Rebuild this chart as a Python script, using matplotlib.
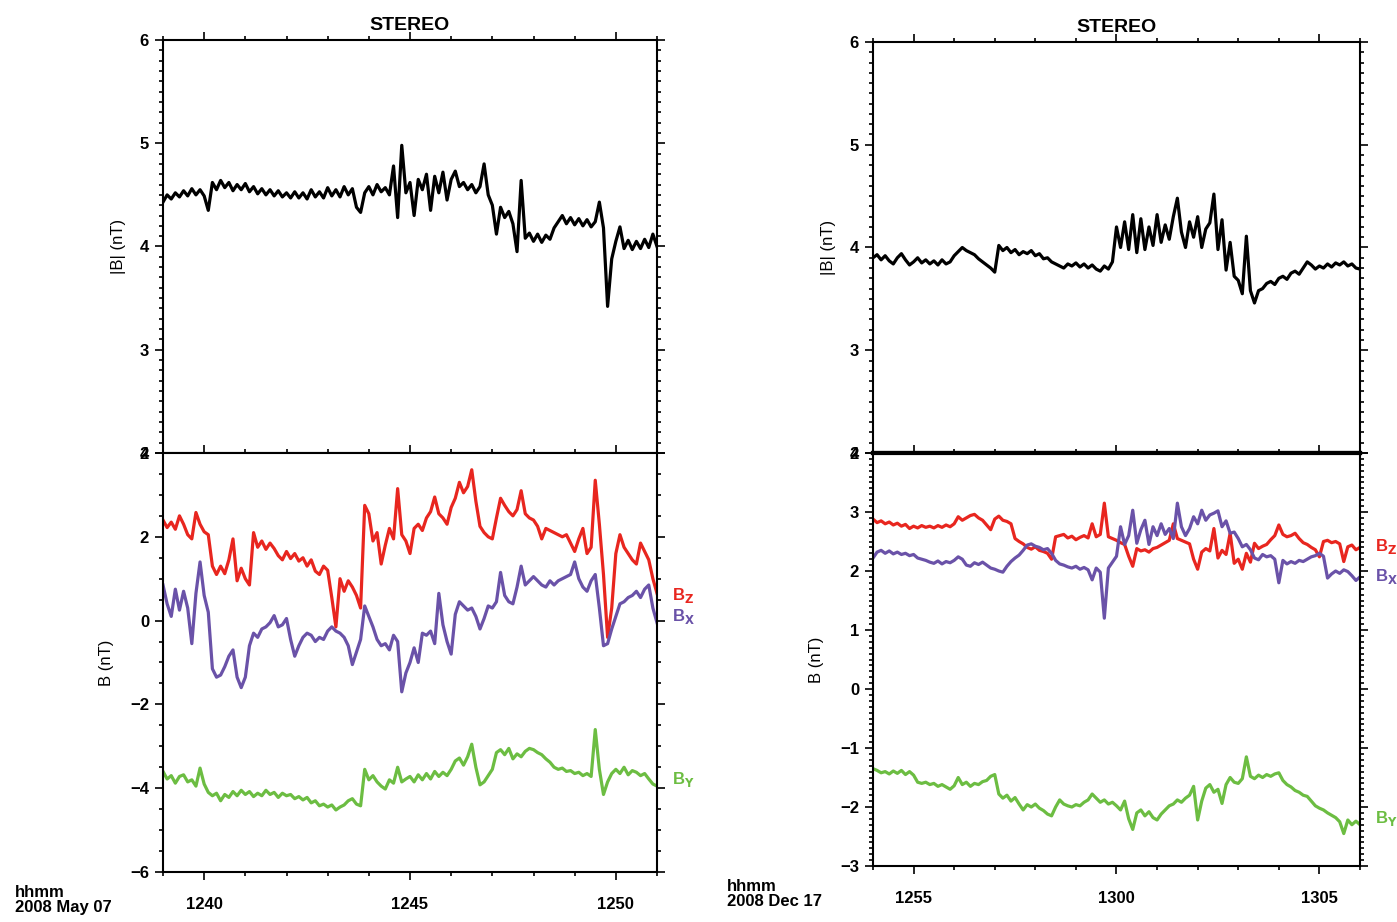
import numpy as np
import matplotlib
matplotlib.use("Agg")
import matplotlib.pyplot as plt
from matplotlib.ticker import MultipleLocator, FuncFormatter

# ---- 2008 May 07, 12:39-12:51 UT (minutes after 12:00) ----
may_start, may_end = 39.0, 51.0
may_btot = [
    4.43, 4.50, 4.46, 4.52, 4.48, 4.54, 4.49, 4.56, 4.50, 4.55,
    4.49, 4.35, 4.62, 4.55, 4.64, 4.57, 4.62, 4.54, 4.60, 4.55,
    4.61, 4.53, 4.58, 4.51, 4.56, 4.50, 4.55, 4.49, 4.54, 4.48,
    4.52, 4.47, 4.53, 4.47, 4.52, 4.46, 4.55, 4.48, 4.53, 4.47,
    4.57, 4.49, 4.55, 4.48, 4.58, 4.50, 4.56, 4.38, 4.33, 4.52,
    4.58, 4.50, 4.60, 4.53, 4.57, 4.50, 4.78, 4.28, 4.98, 4.52,
    4.62, 4.30, 4.65, 4.55, 4.70, 4.35, 4.68, 4.52, 4.72, 4.45,
    4.65, 4.73, 4.58, 4.62, 4.55, 4.60, 4.52, 4.58, 4.80, 4.50,
    4.40, 4.12, 4.38, 4.28, 4.34, 4.22, 3.95, 4.64, 4.08, 4.13,
    4.05, 4.12, 4.04, 4.11, 4.07, 4.18, 4.24, 4.30, 4.22, 4.28,
    4.21, 4.27, 4.20, 4.26, 4.19, 4.24, 4.43, 4.18, 3.42, 3.88,
    4.05, 4.19, 3.98, 4.06, 3.97, 4.05, 3.98, 4.07, 3.99, 4.12,
    4.00,
]
may_bz = [
    2.40, 2.22, 2.35, 2.18, 2.50, 2.30, 2.05, 1.95, 2.58, 2.30,
    2.12, 2.05, 1.30, 1.10, 1.30, 1.12, 1.45, 1.95, 0.95, 1.25,
    1.00, 0.85, 2.10, 1.75, 1.90, 1.70, 1.85, 1.72, 1.55, 1.45,
    1.65, 1.48, 1.60, 1.42, 1.50, 1.30, 1.45, 1.18, 1.10, 1.30,
    1.20, 0.55, -0.15, 1.00, 0.70, 0.95, 0.80, 0.60, 0.30, 2.75,
    2.55, 1.90, 2.10, 1.35, 1.80, 2.20, 1.95, 3.15, 2.05, 1.90,
    1.60, 2.20, 2.30, 2.15, 2.45, 2.60, 2.95, 2.55, 2.45, 2.30,
    2.70, 2.92, 3.30, 3.05, 3.20, 3.60, 2.85, 2.25, 2.10, 2.00,
    1.95, 2.45, 2.92, 2.75, 2.60, 2.50, 2.65, 3.10, 2.55, 2.45,
    2.40, 2.25, 1.95, 2.20, 2.15, 2.10, 2.05, 2.00, 2.05, 1.85,
    1.65, 1.95, 2.20, 1.60, 1.75, 3.35, 2.30, 1.10, -0.40, 0.30,
    1.60, 2.05, 1.75, 1.60, 1.45, 1.35, 1.85, 1.65, 1.45, 1.00,
    0.65,
]
may_bx = [
    0.85, 0.40, 0.10, 0.75, 0.25, 0.70, 0.30, -0.55, 0.65, 1.40,
    0.60, 0.20, -1.15, -1.35, -1.30, -1.10, -0.85, -0.70, -1.35, -1.60,
    -1.35, -0.60, -0.30, -0.40, -0.20, -0.15, -0.05, 0.12, -0.15, -0.10,
    0.05, -0.45, -0.85, -0.60, -0.40, -0.30, -0.35, -0.50, -0.40, -0.45,
    -0.25, -0.15, -0.25, -0.30, -0.40, -0.60, -1.05, -0.75, -0.45, 0.35,
    0.10, -0.15, -0.45, -0.60, -0.55, -0.70, -0.35, -0.50, -1.70, -1.25,
    -1.00, -0.65, -1.00, -0.30, -0.35, -0.25, -0.55, 0.65, -0.10, -0.50,
    -0.80, 0.15, 0.45, 0.35, 0.25, 0.30, 0.10, -0.20, 0.05, 0.35,
    0.30, 0.45, 1.15, 0.60, 0.45, 0.40, 0.80, 1.30, 0.85, 0.95,
    1.05, 0.95, 0.85, 0.80, 0.95, 0.85, 0.95, 1.00, 1.05, 1.10,
    1.40, 1.00, 0.80, 0.70, 0.95, 1.10, 0.30, -0.60, -0.55, -0.20,
    0.10, 0.40, 0.45, 0.55, 0.60, 0.70, 0.55, 0.75, 0.85, 0.30,
    -0.05,
]
may_by = [
    -3.60, -3.78, -3.70, -3.88, -3.72, -3.68, -3.85, -3.80, -3.95, -3.52,
    -3.90, -4.10, -4.18, -4.12, -4.30, -4.15, -4.22, -4.08, -4.18, -4.05,
    -4.15, -4.08, -4.20, -4.12, -4.18, -4.05, -4.15, -4.10, -4.22, -4.12,
    -4.18, -4.15, -4.25, -4.20, -4.28, -4.22, -4.35, -4.30, -4.42, -4.38,
    -4.45, -4.40, -4.52, -4.45, -4.40, -4.30, -4.25, -4.38, -4.42, -3.55,
    -3.80, -3.70, -3.85, -3.95, -4.02, -3.80, -3.88, -3.50, -3.85, -3.78,
    -3.72, -3.85, -3.68, -3.80, -3.65, -3.78, -3.60, -3.72, -3.62, -3.70,
    -3.55, -3.35, -3.28, -3.45, -3.25, -2.95, -3.50, -3.92, -3.85, -3.70,
    -3.55, -3.15, -3.08, -3.20, -3.05, -3.30, -3.18, -3.25, -3.12, -3.05,
    -3.08, -3.15, -3.20, -3.30, -3.38, -3.50, -3.55, -3.52, -3.60, -3.58,
    -3.65, -3.62, -3.70, -3.65, -3.72, -2.60, -3.55, -4.15, -3.85, -3.65,
    -3.55, -3.65, -3.50, -3.68, -3.58, -3.62, -3.70, -3.65, -3.78, -3.90,
    -3.95,
]

# ---- 2008 Dec 17, 12:54-13:06 UT (minutes after 12:00) ----
dec_start, dec_end = 54.0, 66.0
dec_btot = [
    3.90, 3.93, 3.88, 3.92, 3.87, 3.84, 3.90, 3.94, 3.88, 3.83,
    3.86, 3.90, 3.85, 3.88, 3.84, 3.87, 3.83, 3.88, 3.84, 3.86,
    3.92, 3.96, 4.00, 3.97, 3.95, 3.93, 3.89, 3.86, 3.83, 3.80,
    3.76, 4.02, 3.97, 4.00, 3.95, 3.98, 3.93, 3.96, 3.94, 3.97,
    3.92, 3.94, 3.89, 3.90, 3.86, 3.84, 3.82, 3.80, 3.84, 3.82,
    3.85, 3.81, 3.84, 3.80, 3.83, 3.79, 3.77, 3.82, 3.79, 3.86,
    4.20, 4.00, 4.25, 3.98, 4.32, 3.95, 4.28, 3.98, 4.20, 4.02,
    4.32, 4.05, 4.22, 4.08, 4.30, 4.48, 4.15, 4.00, 4.25, 4.10,
    4.30, 4.00, 4.18, 4.24, 4.52, 3.98, 4.27, 3.78, 4.05, 3.72,
    3.68, 3.55, 4.11, 3.58, 3.46, 3.58, 3.60, 3.65, 3.67, 3.64,
    3.70, 3.72, 3.69, 3.75, 3.77, 3.74, 3.80, 3.86, 3.83, 3.79,
    3.82, 3.80, 3.84, 3.81, 3.85, 3.83, 3.86, 3.82, 3.84, 3.80,
    3.79,
]
dec_bz = [
    2.88, 2.82, 2.85, 2.80, 2.83, 2.78, 2.81, 2.76, 2.79, 2.72,
    2.76, 2.73, 2.77, 2.74, 2.76, 2.73, 2.77, 2.74, 2.78, 2.75,
    2.80, 2.92, 2.86, 2.90, 2.94, 2.96, 2.90, 2.86, 2.78, 2.70,
    2.88, 2.93, 2.86, 2.84, 2.80, 2.55, 2.50, 2.46, 2.40, 2.37,
    2.41, 2.35, 2.33, 2.30, 2.20, 2.58, 2.60, 2.62, 2.56, 2.59,
    2.53, 2.57, 2.60, 2.56, 2.80, 2.58, 2.62, 3.15, 2.58, 2.55,
    2.52, 2.48, 2.45, 2.25, 2.08, 2.38, 2.34, 2.36, 2.32, 2.38,
    2.40, 2.44, 2.48, 2.52, 2.80, 2.55, 2.52, 2.49, 2.46, 2.20,
    2.03, 2.32, 2.38, 2.34, 2.72, 2.22, 2.35, 2.28, 2.64, 2.13,
    2.20, 2.03, 2.30, 2.15, 2.47, 2.38, 2.42, 2.45, 2.53, 2.60,
    2.78, 2.62, 2.58, 2.60, 2.64, 2.55, 2.48, 2.45, 2.40, 2.36,
    2.24, 2.50, 2.52, 2.48, 2.50, 2.46, 2.16, 2.41, 2.44, 2.36,
    2.40,
]
dec_bx = [
    2.22, 2.32, 2.35, 2.30, 2.34, 2.29, 2.32, 2.28, 2.30, 2.26,
    2.28, 2.22, 2.20, 2.18, 2.15, 2.13, 2.17, 2.12, 2.16, 2.14,
    2.18, 2.24, 2.20, 2.10, 2.08, 2.14, 2.11, 2.15, 2.10, 2.05,
    2.03, 2.00, 1.98, 2.08, 2.16, 2.22, 2.27, 2.35, 2.44, 2.46,
    2.42, 2.40, 2.36, 2.38, 2.30, 2.18, 2.12, 2.10, 2.07, 2.05,
    2.08, 2.03, 2.06, 2.02, 1.85, 2.05, 1.98, 1.20, 2.05, 2.15,
    2.25, 2.75, 2.45, 2.60, 3.03, 2.47, 2.70, 2.86, 2.45, 2.75,
    2.60, 2.80, 2.62, 2.72, 2.55, 3.15, 2.75, 2.60, 2.72, 2.92,
    2.80, 3.03, 2.86, 2.95, 2.98, 3.02, 2.75, 2.85, 2.64, 2.66,
    2.55, 2.41, 2.45, 2.36, 2.22, 2.19, 2.28, 2.24, 2.26, 2.20,
    1.80, 2.18, 2.12, 2.16, 2.13, 2.18, 2.16, 2.20, 2.24, 2.26,
    2.30, 2.25, 1.88, 1.95, 2.00, 1.96, 2.02, 1.99, 1.92, 1.84,
    1.90,
]
dec_by = [
    -1.35, -1.38, -1.42, -1.40, -1.44, -1.39, -1.43, -1.38, -1.45, -1.40,
    -1.46, -1.58, -1.60, -1.58, -1.62, -1.60, -1.65, -1.62, -1.66, -1.70,
    -1.64, -1.50, -1.62, -1.58, -1.65, -1.60, -1.62, -1.57, -1.55, -1.48,
    -1.45, -1.78, -1.85, -1.80, -1.90, -1.84, -1.95, -2.05, -1.96, -2.00,
    -1.95, -2.02, -2.06, -2.12, -2.15, -2.00, -1.88, -1.95, -1.98, -2.00,
    -1.96, -1.98, -1.92, -1.88, -1.78, -1.85, -1.92, -1.88, -1.95, -1.92,
    -1.98, -2.05, -1.90, -2.20, -2.38, -2.10, -2.05, -2.15, -2.08, -2.18,
    -2.22, -2.12, -2.05, -1.98, -1.95, -1.88, -1.92, -1.85, -1.80, -1.65,
    -2.22, -1.90, -1.68, -1.62, -1.75, -1.70, -1.94, -1.62, -1.50, -1.58,
    -1.60, -1.52, -1.15, -1.48, -1.52, -1.46, -1.50, -1.45, -1.48, -1.44,
    -1.42, -1.55, -1.62, -1.66, -1.72, -1.75, -1.80, -1.82, -1.90, -1.98,
    -2.02, -2.05, -2.10, -2.14, -2.18, -2.25, -2.45, -2.22, -2.30, -2.24,
    -2.30,
]

RED = "#e8261f"
PURPLE = "#6a52a8"
GREEN = "#6cbd42"
LW = 2.3

plt.rcParams["font.family"] = ["Liberation Sans", "DejaVu Sans"]
plt.rcParams["font.weight"] = "bold"
plt.rcParams["mathtext.default"] = "bf"

W, H = 1397, 922
fig = plt.figure(figsize=(W / 100, H / 100), dpi=100)


def box(x0, y0, x1, y1):
    return [x0 / W, 1 - y1 / H, (x1 - x0) / W, (y1 - y0) / H]


def hhmm(m, _pos=None):
    m = int(round(m))
    return f"{12 + m // 60:02d}{m % 60:02d}"


def style(ax, ymaj, ymin, show_x):
    ax.xaxis.set_major_locator(MultipleLocator(5))
    ax.xaxis.set_minor_locator(MultipleLocator(1))
    ax.yaxis.set_major_locator(MultipleLocator(ymaj))
    ax.yaxis.set_minor_locator(MultipleLocator(ymin))
    ax.tick_params(which="both", direction="out", top=True, right=True,
                   width=1.2, labelsize=12, pad=4)
    ax.tick_params(which="major", length=6)
    ax.tick_params(which="minor", length=3)
    ax.tick_params(axis="x", pad=12)
    ax.xaxis.set_major_formatter(FuncFormatter(hhmm))
    if not show_x:
        ax.tick_params(axis="x", labelbottom=False)
    for s in ax.spines.values():
        s.set_linewidth(1.5)


panels = [
    dict(t0=may_start, t1=may_end, bt=may_btot, bz=may_bz, bx=may_bx, by=may_by,
         x0=163, x1=657, ytop=40, ymid=453, ybot=872, ylo=-6, yhi=4, bmaj=2, bmin=0.5,
         date="2008 May 07", datexy=(15, 912), thick=False,
         lab_y=(0.60, 0.10, -3.80)),
    dict(t0=dec_start, t1=dec_end, bt=dec_btot, bz=dec_bz, bx=dec_bx, by=dec_by,
         x0=873, x1=1360, ytop=42, ymid=453, ybot=866, ylo=-3, yhi=4, bmaj=1, bmin=0.1,
         date="2008 Dec 17", datexy=(727, 906), thick=True,
         lab_y=(2.42, 1.90, -2.20)),
]

for p in panels:
    t = np.linspace(p["t0"], p["t1"], len(p["bt"]))

    ax1 = fig.add_axes(box(p["x0"], p["ytop"], p["x1"], p["ymid"]))
    ax1.plot(t, p["bt"], color="black", lw=LW)
    ax1.set_xlim(p["t0"], p["t1"])
    ax1.set_ylim(2, 6)
    style(ax1, 1, 0.1, False)
    ax1.set_ylabel("|B| (nT)", fontsize=12)
    ax1.yaxis.set_label_coords(-0.075, 0.5)
    ax1.set_title("STEREO", fontsize=14, pad=7, fontweight="bold")

    ax2 = fig.add_axes(box(p["x0"], p["ymid"], p["x1"], p["ybot"]))
    ax2.plot(t, p["bz"], color=RED, lw=LW)
    ax2.plot(t, p["bx"], color=PURPLE, lw=LW)
    ax2.plot(t, p["by"], color=GREEN, lw=LW)
    ax2.set_xlim(p["t0"], p["t1"])
    ax2.set_ylim(p["ylo"], p["yhi"])
    style(ax2, p["bmaj"], p["bmin"], True)
    ax2.set_ylabel("B (nT)", fontsize=12)
    ax2.yaxis.set_label_coords(-0.10, 0.5)

    if p["thick"]:
        ax1.spines["bottom"].set_linewidth(3)
        ax2.spines["top"].set_linewidth(3)

    for txt, col, yv in zip(["B$_{Z}$", "B$_{X}$", "B$_{Y}$"],
                            [RED, PURPLE, GREEN], p["lab_y"]):
        ax2.text(1.03, yv, txt, color=col, fontsize=12,
                 transform=ax2.get_yaxis_transform(), va="center", ha="left")

    fig.text(p["datexy"][0] / W, 1 - (p["datexy"][1] - 15) / H, "hhmm",
             fontsize=12, ha="left", va="baseline")
    fig.text(p["datexy"][0] / W, 1 - p["datexy"][1] / H, p["date"],
             fontsize=12, ha="left", va="baseline")

fig.savefig("out.png", dpi=100)
